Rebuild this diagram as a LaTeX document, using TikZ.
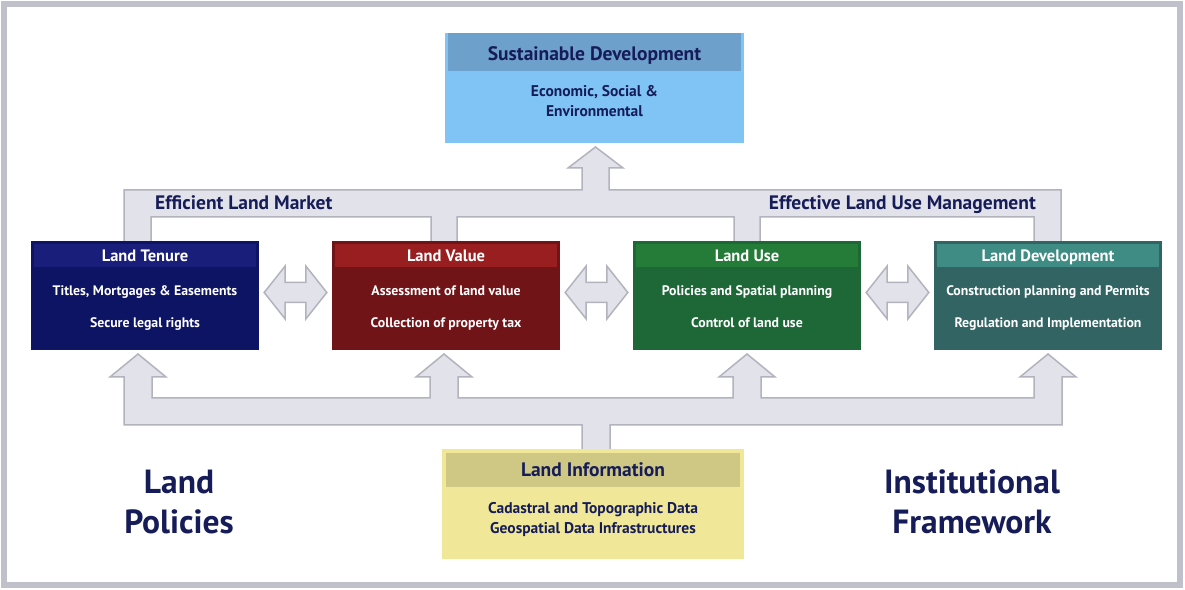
\documentclass[tikz,border=0pt]{standalone}
\usepackage{fontspec}
\setmainfont{PT Sans}
\usetikzlibrary{positioning}
\definecolor{navy}{RGB}{22,28,88}
\definecolor{frame}{RGB}{192,192,202}
\definecolor{pipefill}{RGB}{226,227,234}
\definecolor{pipeline}{RGB}{178,179,189}
\definecolor{tenurehead}{RGB}{24,30,122}
\definecolor{tenurebody}{RGB}{14,20,100}
\definecolor{valuehead}{RGB}{152,30,32}
\definecolor{valuebody}{RGB}{112,20,24}
\definecolor{usehead}{RGB}{36,124,56}
\definecolor{usebody}{RGB}{30,104,56}
\definecolor{devhead}{RGB}{62,140,132}
\definecolor{devbody}{RGB}{50,100,100}
\definecolor{sdhead}{RGB}{110,160,204}
\definecolor{sdbody}{RGB}{128,196,246}
\definecolor{infohead}{RGB}{206,200,132}
\definecolor{infobody}{RGB}{240,232,152}
\tikzstyle{pipe}=[fill=pipefill, draw=pipeline, line width=1.5pt, line join=miter]
\tikzstyle{box}=[inner sep=0pt, minimum width=228pt, minimum height=109pt]
\tikzstyle{txt}=[inner sep=0pt, text height=0.7em, text depth=0.2em]
\tikzstyle{head}=[txt, white, font=\bfseries\fontsize{16.5}{18}\selectfont]
\tikzstyle{item}=[txt, white, font=\bfseries\fontsize{13.8}{14}\selectfont]
\tikzstyle{title}=[txt, navy, font=\bfseries\fontsize{19.5}{20}\selectfont]
\tikzstyle{line}=[txt, navy, font=\bfseries\fontsize{15.5}{16}\selectfont]
\tikzstyle{big}=[navy, align=center, font=\bfseries\fontsize{33.5}{40}\selectfont]

\begin{document}
\begin{tikzpicture}[x=1pt, y=1pt]
\useasboundingbox (0,0) rectangle (1185,589);
\fill[white] (0,0) rectangle (1185,589);
\draw[frame, line width=6pt] (4,4) rectangle (1180,585);

% pipes up to sustainable development
\draw[pipe] (124,347) -- (124,399) -- (582,399) -- (582,421) -- (568,421)
  -- (595.5,442) -- (623,421) -- (609,421) -- (609,399) -- (1061,399)
  -- (1061,347) -- (1034,347) -- (1034,372) -- (760,372) -- (760,347)
  -- (734,347) -- (734,372) -- (457,372) -- (457,347) -- (431,347)
  -- (431,372) -- (151,372) -- (151,347) -- cycle;
% pipes from land information
\draw[pipe] (124,164) -- (124,212) -- (110,212) -- (138,235) -- (166,212)
  -- (152,212) -- (152,191) -- (430,191) -- (430,212) -- (416,212)
  -- (444,235) -- (472,212) -- (458,212) -- (458,191) -- (733,191)
  -- (733,212) -- (719,212) -- (747,235) -- (775,212) -- (761,212)
  -- (761,191) -- (1034,191) -- (1034,212) -- (1020,212) -- (1048,235)
  -- (1076,212) -- (1062,212) -- (1062,164) -- (610,164) -- (610,139)
  -- (582,139) -- (582,164) -- cycle;

\foreach \n/\x/\t/\a/\b in {
  tenure/145/Land Tenure/{Titles, Mortgages \& Easements}/Secure legal rights,
  value/446/Land Value/Assessment of land value/Collection of property tax,
  use/747/Land Use/Policies and Spatial planning/Control of land use,
  dev/1048/Land Development/Construction planning and Permits/Regulation and Implementation}
{
	\node[box, fill=\n body] (\n) at (\x,293.5) {};
	\fill[\n head] ([xshift=3pt,yshift=-3pt]\n.north west) rectangle ([xshift=-3pt,yshift=-26pt]\n.north east);
	\node[head] (\n-t) at ([yshift=-18pt]\n.north) {\t};
	\node[item] (\n-a) at ([yshift=-52pt]\n.north) {\a};
	\node[item] (\n-b) at ([yshift=-84pt]\n.north) {\b};
}

% two-way arrows between the boxes
\foreach \a/\b in {tenure/value, value/use, use/dev}
	\draw[pipe] ([xshift=5pt,yshift=3pt]\a.east) -- ++(21,26.5) -- ++(0,-16.5)
	  -- ([xshift=-26pt,yshift=13pt]\b.west) -- ++(0,16.5) -- ++(21,-26.5)
	  -- ++(-21,-26.5) -- ++(0,16.5) -- ([xshift=26pt,yshift=-7pt]\a.east)
	  -- ++(0,-16.5) -- cycle;

\node[inner sep=0pt, minimum width=299pt, minimum height=110pt, fill=sdbody] (sd) at (594.5,501) {};
\fill[sdhead] ([xshift=3pt]sd.north west) rectangle ([xshift=-3pt,yshift=-38pt]sd.north east);
\node[title] (sd-t) at ([yshift=-25pt]sd.north) {Sustainable Development};
\node[line] (sd-a) at ([yshift=-61pt]sd.north) {Economic, Social \&};
\node[line] (sd-b) at ([yshift=-81pt]sd.north) {Environmental};

\node[inner sep=0pt, minimum width=302pt, minimum height=110pt, fill=infobody] (info) at (593,85) {};
\fill[infohead] ([xshift=4pt,yshift=-4pt]info.north west) rectangle ([xshift=-4pt,yshift=-38pt]info.north east);
\node[title] (info-t) at ([yshift=-25pt]info.north) {Land Information};
\node[line] (info-a) at ([yshift=-62pt]info.north) {Cadastral and Topographic Data};
\node[line] (info-b) at ([yshift=-82pt]info.north) {Geospatial Data Infrastructures};

\node[title, anchor=west] (market) at (155,381.5) {Efficient Land Market};
\node[title, anchor=east] (manage) at (1036,381.5) {Effective Land Use Management};

\node[big] (policies) at (179,87) {Land\\Policies};
\node[big] (framework) at (972,87) {Institutional\\Framework};
\end{tikzpicture}
\end{document}
